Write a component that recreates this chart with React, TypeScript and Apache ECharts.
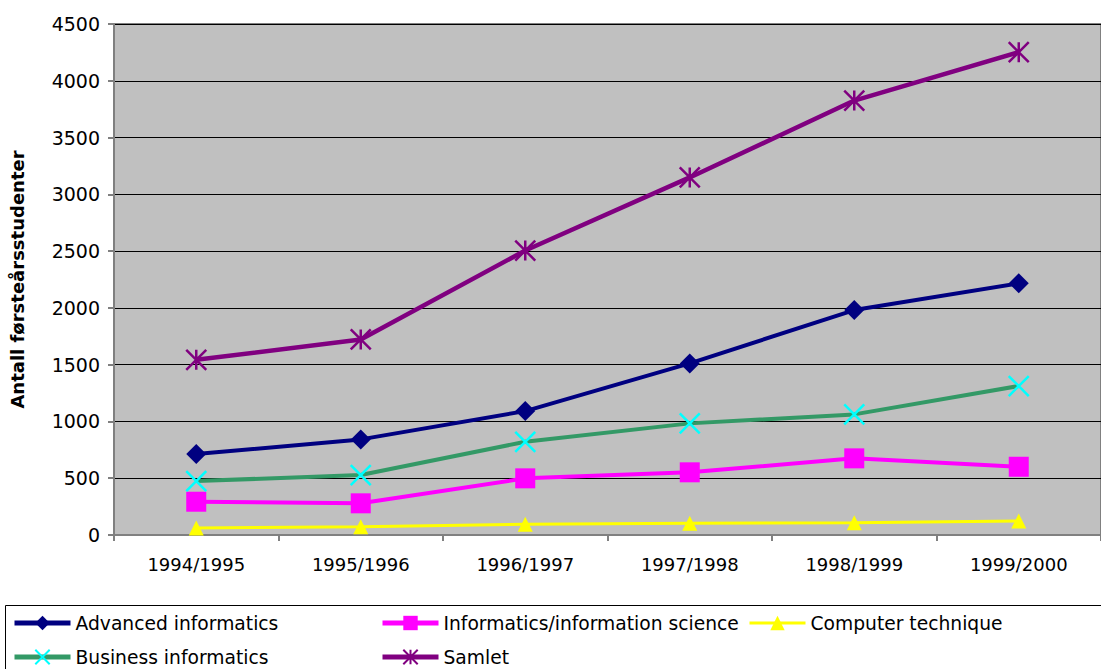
import React, { useEffect, useRef } from "react";
import * as echarts from "echarts";

const categories = ["1994/1995", "1995/1996", "1996/1997", "1997/1998", "1998/1999", "1999/2000"];
const advanced = [713, 842, 1091, 1511, 1981, 2216];
const infoScience = [293, 279, 499, 552, 675, 601];
const computerTech = [62, 73, 94, 103, 108, 123];
const business = [475, 528, 821, 983, 1062, 1312];
const samlet = [1543, 1722, 2505, 3149, 3826, 4252];
const yTicks = { min: 0, max: 4500, interval: 500 };

const FONT = "DejaVu Sans";

export default function App() {
  const ref = useRef<HTMLDivElement>(null);
  useEffect(() => {
    if (!ref.current) return;
    const chart = echarts.init(ref.current, null, { renderer: "svg" });
    const xSym = "path://M0,0L10,10M10,0L0,10";
    const starSym = "path://M5,0L5,10M0,0L10,10M10,0L0,10";
    const legendText = { fontFamily: FONT, fontSize: 18.7, color: "#000", lineHeight: 20 };
    const legendBase = {
      orient: "vertical",
      top: 613,
      height: 90,
      padding: 0,
      itemWidth: 56,
      itemHeight: 18,
      itemGap: 14,
      textStyle: legendText,
      selectedMode: false,
      lineStyle: { width: 5 },
    };
    chart.setOption({
      animation: false,
      backgroundColor: "#fff",
      grid: {
        left: 110,
        top: 24,
        right: -11,
        bottom: 669 - 535,
        show: true,
        backgroundColor: "#c0c0c0",
        borderColor: "#808080",
        borderWidth: 2,
      },
      xAxis: {
        type: "category",
        data: categories,
        boundaryGap: true,
        axisLine: { lineStyle: { color: "#808080", width: 2 } },
        axisTick: { show: true, inside: false, length: 6, lineStyle: { color: "#808080", width: 2 } },
        axisLabel: { color: "#000", fontFamily: FONT, fontSize: 18, margin: 20 },
        splitLine: { show: false },
      },
      yAxis: {
        type: "value",
        min: yTicks.min,
        max: yTicks.max,
        interval: yTicks.interval,
        name: "Antall førsteårsstudenter",
        nameLocation: "middle",
        nameRotate: 90,
        nameGap: 88,
        nameTextStyle: { fontFamily: FONT, fontSize: 18, fontWeight: "bold", color: "#000" },
        axisLine: { show: true, lineStyle: { color: "#808080", width: 2 } },
        axisTick: { show: true, inside: false, length: 6, lineStyle: { color: "#808080", width: 2 } },
        axisLabel: {
          color: "#000",
          fontFamily: FONT,
          fontSize: 19,
          margin: 14,
          formatter: (v: number) => String(v),
        },
        splitLine: { show: true, lineStyle: { color: "#000", width: 1 } },
      },
      legend: [
        { ...legendBase, left: 12, data: ["Advanced informatics", "Business informatics"] },
        { ...legendBase, left: 380, data: ["Informatics/information science", "Samlet"] },
        { ...legendBase, left: 748, data: ["Computer technique"], lineStyle: { width: 3 } },
      ],
      graphic: [
        {
          type: "rect",
          shape: { x: 5.5, y: 605.5, width: 1120, height: 100 },
          style: { fill: "none", stroke: "#000", lineWidth: 1 },
          silent: true,
        },
      ],
      series: [
        {
          name: "Advanced informatics",
          type: "line",
          data: advanced,
          symbol: "diamond",
          symbolSize: 20,
          lineStyle: { color: "#000080", width: 4 },
          itemStyle: { color: "#000080" },
          z: 5,
        },
        {
          name: "Informatics/information science",
          type: "line",
          data: infoScience,
          symbol: "rect",
          symbolSize: 20,
          lineStyle: { color: "#ff00ff", width: 4 },
          itemStyle: { color: "#ff00ff" },
          z: 4,
        },
        {
          name: "Computer technique",
          type: "line",
          data: computerTech,
          symbol: "triangle",
          symbolSize: 15,
          lineStyle: { color: "#ffff00", width: 3 },
          itemStyle: { color: "#ffff00" },
          z: 3,
        },
        {
          name: "Business informatics",
          type: "line",
          data: business,
          symbol: xSym,
          symbolSize: 20,
          lineStyle: { color: "#339966", width: 4 },
          itemStyle: { color: "#00ffff", borderColor: "#00ffff", borderWidth: 2.5 },
          z: 4,
        },
        {
          name: "Samlet",
          type: "line",
          data: samlet,
          symbol: starSym,
          symbolSize: 20,
          lineStyle: { color: "#800080", width: 4.5 },
          itemStyle: { color: "#800080", borderColor: "#800080", borderWidth: 2.5 },
          z: 5,
        },
      ],
    });
    return () => chart.dispose();
  }, []);
  return (
    <div
      ref={ref}
      style={{ position: "fixed", left: 0, top: 0, width: 1101, height: 669, overflow: "hidden" }}
    />
  );
}
